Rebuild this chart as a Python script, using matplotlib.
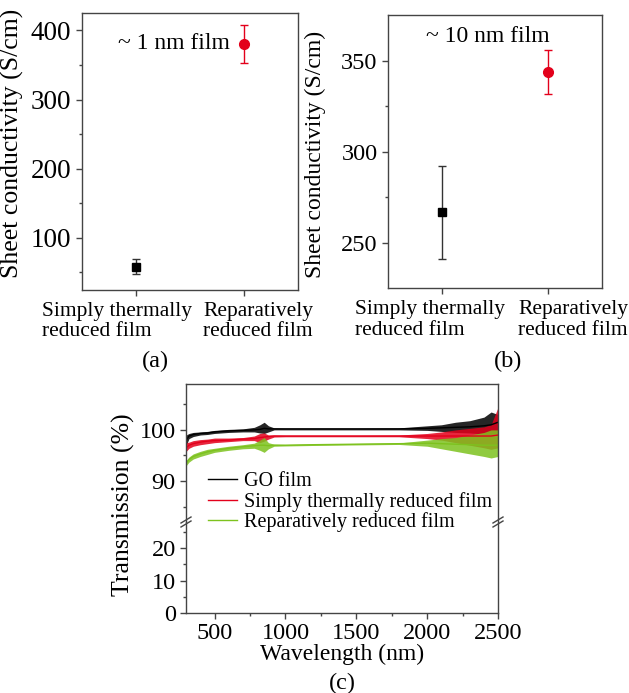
import matplotlib
matplotlib.use("Agg")
import matplotlib.pyplot as plt
from matplotlib.lines import Line2D
from matplotlib.transforms import ScaledTranslation, blended_transform_factory
import numpy as np

plt.rcParams['font.family'] = ['Liberation Serif', 'DejaVu Serif']
plt.rcParams['mathtext.fontset'] = 'stix'

# panel (a) and (b) data: sheet conductivity (S/cm)
samples = ["Simply thermally\nreduced film", "Reparatively\nreduced film"]
cond_1nm = [58, 380]
cond_1nm_lo = [47, 353]
cond_1nm_hi = [70, 408]
cond_10nm = [267, 344]
cond_10nm_lo = [241, 332]
cond_10nm_hi = [292, 356]

# panel (c) data: transmission spectra (center + noise band)
wl = [300, 320, 350, 400, 450, 500, 600, 700, 780, 820, 850, 880, 920, 1000,
      1200, 1500, 1800, 2000, 2100, 2200, 2300, 2400, 2450, 2500]
go_mid = [98.0, 98.8, 99.1, 99.3, 99.4, 99.6, 99.8, 99.9, 100.0, 100.1, 100.3, 100.2,
          100.2, 100.2, 100.2, 100.2, 100.2, 100.3, 100.4, 100.5, 100.6, 100.8, 101.0, 101.5]
go_lo = [97.0, 98.3, 98.7, 99.0, 99.1, 99.3, 99.5, 99.6, 99.6, 99.4, 99.3, 99.6,
         100.0, 100.0, 100.0, 100.0, 100.0, 99.9, 99.7, 99.5, 99.4, 99.2, 99.0, 99.5]
go_hi = [99.0, 99.3, 99.5, 99.6, 99.7, 99.9, 100.1, 100.2, 100.5, 101.0, 101.5, 100.8,
         100.4, 100.35, 100.35, 100.35, 100.4, 100.8, 101.0, 101.5, 101.8, 102.5, 103.5, 103.0]
st_mid = [96.5, 97.0, 97.3, 97.6, 97.8, 97.9, 98.0, 98.2, 98.3, 98.5, 98.6, 98.7,
          98.8, 98.8, 98.8, 98.8, 98.8, 98.8, 98.8, 98.8, 98.8, 98.8, 98.8, 99.0]
st_lo = [95.8, 96.4, 96.8, 97.1, 97.3, 97.5, 97.7, 97.9, 97.9, 97.5, 97.8, 98.2,
         98.6, 98.65, 98.65, 98.65, 98.65, 98.3, 98.0, 97.5, 97.0, 96.5, 96.2, 96.5]
st_hi = [97.5, 97.6, 97.9, 98.1, 98.2, 98.4, 98.4, 98.5, 98.8, 99.3, 99.4, 99.0,
         99.0, 98.95, 98.95, 98.95, 99.0, 99.3, 99.6, 100.0, 100.3, 100.6, 101.0, 104.5]
rp_mid = [93.5, 94.2, 94.8, 95.3, 95.7, 96.0, 96.4, 96.7, 96.9, 97.0, 97.0, 96.9,
          97.0, 97.0, 97.1, 97.2, 97.3, 97.4, 97.3, 97.2, 97.1, 97.0, 97.0, 97.0]
rp_lo = [93.0, 93.7, 94.3, 94.8, 95.2, 95.6, 96.0, 96.3, 96.4, 96.0, 95.6, 96.3,
         96.8, 96.85, 96.95, 97.05, 97.15, 96.8, 96.3, 95.8, 95.3, 94.8, 94.5, 94.8]
rp_hi = [94.0, 94.7, 95.3, 95.8, 96.2, 96.4, 96.8, 97.1, 97.4, 98.0, 98.5, 97.5,
         97.2, 97.15, 97.25, 97.35, 97.45, 98.0, 98.3, 98.5, 99.0, 99.5, 100.0, 100.0]

RED = '#e3001b'
GREEN = '#7dc21e'
FRAME = '#444444'
FS = 17.5

fig = plt.figure(figsize=(6.29, 6.93), dpi=100)
W, H = 629.0, 693.0


def style_axes(ax, size=FS):
    for s in ax.spines.values():
        s.set_color(FRAME)
        s.set_linewidth(1.0)
    ax.tick_params(which='both', direction='out', colors=FRAME, labelcolor='black',
                   labelsize=size, top=False, right=False)
    ax.tick_params(which='major', length=4, width=1)
    ax.tick_params(which='minor', length=2.5, width=1)


def cond_panel(rect, vals, lo, hi, ylim, major, minor, note, note_xy, note_ha,
               ysize, lsize, label_shift):
    ax = fig.add_axes(rect)
    style_axes(ax, ysize)
    x = np.arange(len(samples))
    v = np.array(vals)
    err = [v - np.array(lo), np.array(hi) - v]
    ax.errorbar(x[0], v[0], yerr=[[err[0][0]], [err[1][0]]], fmt='s', color='black',
                ecolor='#333333', elinewidth=1, capsize=3, markersize=6)
    ax.errorbar(x[1], v[1], yerr=[[err[0][1]], [err[1][1]]], fmt='o', color=RED,
                ecolor=RED, elinewidth=1, capsize=3, markersize=7)
    ax.set_xlim(-0.5, 1.5)
    ax.set_ylim(*ylim)
    ax.set_xticks(x)
    ax.tick_params(axis='x', labelbottom=False)
    # category labels: left-aligned two-line blocks, shifted left of their ticks
    base = blended_transform_factory(ax.transData, ax.transAxes)
    for xi, name, dx in zip(x, samples, label_shift):
        tr = base + ScaledTranslation(dx / 100.0, -12 / 100.0, fig.dpi_scale_trans)
        ax.text(xi, 0, name, transform=tr, fontsize=15.5, ha='left', va='top',
                linespacing=1.1, multialignment='left')
    ax.set_yticks(major)
    ax.set_yticks(minor, minor=True)
    ax.set_ylabel("Sheet conductivity (S/cm)", fontsize=lsize)
    ax.text(note_xy[0], note_xy[1], note, transform=ax.transAxes, fontsize=17,
            ha=note_ha, va='center')
    return ax


ax_a = cond_panel([0.130, 0.582, 0.344, 0.399], cond_1nm, cond_1nm_lo, cond_1nm_hi,
                  (25, 425), [100, 200, 300, 400], [50, 150, 250, 350],
                  "~ 1 nm film", (0.685, 0.892), 'right', 19.5, 18.5, (-94, -41))
ax_a.yaxis.set_label_coords(-0.265, 0.53)

ax_b = cond_panel([0.617, 0.584, 0.340, 0.394], cond_10nm, cond_10nm_lo, cond_10nm_hi,
                  (225, 375), [250, 300, 350], [275, 325],
                  "~ 10 nm film", (0.467, 0.923), 'center', 17.5, 17, (-87, -30))
ax_b.yaxis.set_label_coords(-0.29, 0.49)

fig.text(155 / W, 1 - 361 / H, "(a)", fontsize=FS, ha='center', va='center')
fig.text(508 / W, 1 - 361 / H, "(b)", fontsize=FS, ha='center', va='center')

# panel (c): broken y axis
ax_up = fig.add_axes([0.296, 0.247, 0.496, 0.199])
ax_lo = fig.add_axes([0.296, 0.115, 0.496, 0.132])
for ax in (ax_up, ax_lo):
    style_axes(ax)
    ax.set_xlim(300, 2500)

series = [(go_mid, go_lo, go_hi, 'black', 'GO film'),
          (st_mid, st_lo, st_hi, RED, 'Simply thermally reduced film'),
          (rp_mid, rp_lo, rp_hi, GREEN, 'Reparatively reduced film')]
handles = []
for mid, lo, hi, col, lab in series:
    ax_up.fill_between(wl, lo, hi, color=col, linewidth=0, alpha=0.85)
    ln, = ax_up.plot(wl, mid, color=col, linewidth=1.0, label=lab)
    handles.append(ln)

ax_up.set_ylim(82, 109)
ax_up.set_yticks([90, 100])
ax_up.set_yticks([85, 95, 105], minor=True)
ax_up.spines['bottom'].set_visible(False)
ax_up.tick_params(axis='x', which='both', bottom=False, labelbottom=False)

ax_lo.set_ylim(0, 28)
ax_lo.set_yticks([0, 10, 20])
ax_lo.set_yticks([5, 15, 25], minor=True)
ax_lo.set_xticks([500, 1000, 1500, 2000, 2500])
ax_lo.set_xticks([750, 1250, 1750, 2250], minor=True)
ax_lo.spines['top'].set_visible(False)
ax_lo.tick_params(axis='x', pad=3)

# break marks on both sides of the frame
for xb in (186, 498):
    for dy in (-2.0, 2.0):
        x0, y0 = xb - 5, 522 + 3 + dy
        x1, y1 = xb + 5, 522 - 3 + dy
        fig.add_artist(Line2D([x0 / W, x1 / W], [1 - y0 / H, 1 - y1 / H],
                              color=FRAME, linewidth=1.0))

fig.legend(handles=handles, loc='center left', bbox_to_anchor=(208 / W, 1 - 502 / H),
           frameon=False, fontsize=14.5, handlelength=1.45, handletextpad=0.35,
           labelspacing=0.05, borderpad=0, borderaxespad=0)

fig.text(123 / W, 1 - 505 / H, "Transmission (%)", rotation=90, fontsize=18.5,
         ha='center', va='center')
fig.text(342 / W, 1 - 660 / H, "Wavelength (nm)", fontsize=17, ha='center', va='baseline')
fig.text(342 / W, 1 - 683 / H, "(c)", fontsize=FS, ha='center', va='center')

fig.savefig("out.png", dpi=100)
